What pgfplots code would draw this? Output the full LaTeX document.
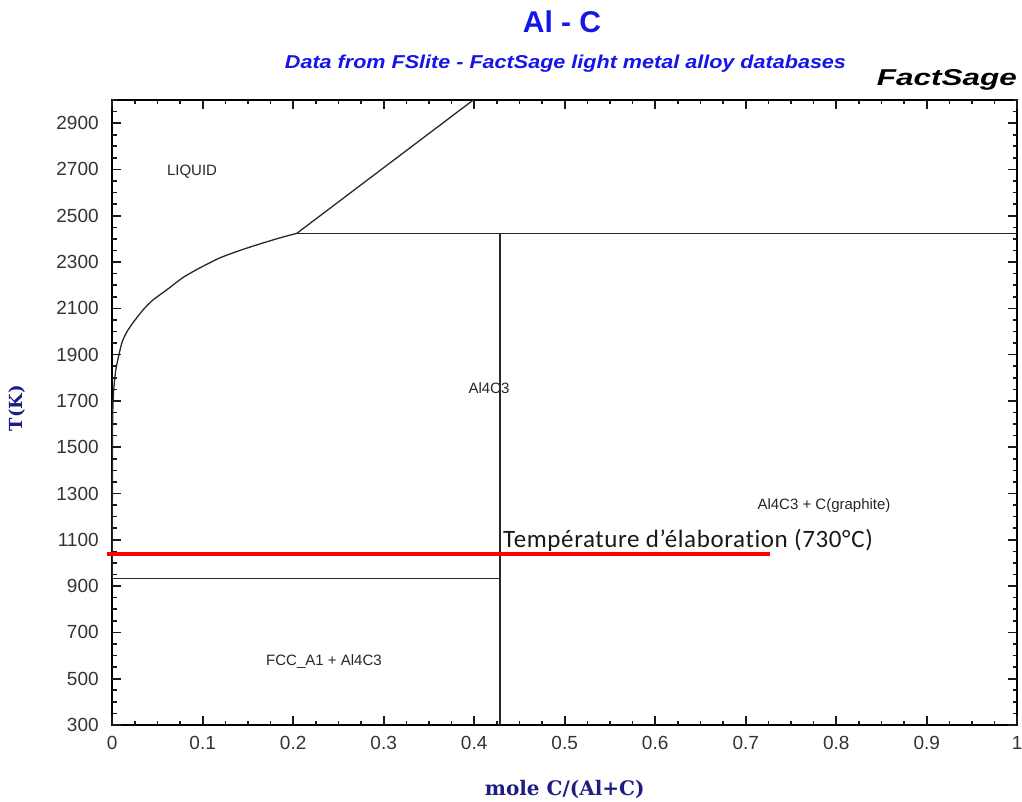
\documentclass[border=0pt]{standalone}
\usepackage{pgfplots}
\pgfplotsset{compat=1.18}
\usepackage{fontspec}
\setmainfont{Liberation Sans}
\newfontfamily\calibri[LetterSpace=2.5,Ligatures=NoCommon]{Carlito}
\newfontfamily\dvserif{DejaVu Serif}
\definecolor{titleblue}{RGB}{20,20,235}
\definecolor{labnavy}{RGB}{30,30,130}
\definecolor{phase}{RGB}{40,40,40}
\definecolor{tickc}{RGB}{25,25,25}
\begin{document}
\begin{tikzpicture}
\begin{axis}[
  at={(0pt,0pt)}, anchor=south west,
  scale only axis, width=905pt, height=625pt,
  xmin=0, xmax=1, ymin=300, ymax=3000,
  xtick={0,0.1,0.2,0.3,0.4,0.5,0.6,0.7,0.8,0.9,1},
  xticklabels={0,0.1,0.2,0.3,0.4,0.5,0.6,0.7,0.8,0.9,1},
  ytick={300,500,700,900,1100,1300,1500,1700,1900,2100,2300,2500,2700,2900},
  yticklabels={300,500,700,900,1100,1300,1500,1700,1900,2100,2300,2500,2700,2900},
  minor x tick num=3, minor y tick num=3,
  major tick length=9pt, minor tick length=4.5pt,
  tick style={draw=tickc, line width=1.6pt},
  axis line style={line width=1.8pt},
  tick label style={font=\fontsize{19}{19}\selectfont, text=black!80},
  xticklabel style={yshift=-8pt},
  yticklabel style={xshift=-10pt},
  xlabel={\dvserif\bfseries mole C/(Al+C)},
  xlabel style={at={(axis description cs:0.5,-0.1024)}, anchor=center, font=\fontsize{20}{20}\selectfont, text=labnavy},
  ylabel={\dvserif\bfseries T(K)},
  ylabel style={at={(axis description cs:-0.1046,0.507)}, anchor=center, font=\fontsize{18}{18}\selectfont, text=labnavy},
  clip=false,
]
% liquidus
\addplot[phase, line width=1.3pt, smooth, tension=0.4] coordinates {
 (0,934) (0.0003,1500) (0.0006,1647) (0.0015,1740) (0.004,1834) (0.007,1891)
 (0.0105,1949) (0.015,1990) (0.0215,2030) (0.034,2093) (0.045,2136)
 (0.060,2179) (0.0786,2234) (0.097,2275) (0.119,2318) (0.141,2350)
 (0.163,2378) (0.185,2404) (0.204,2424)
};
\addplot[phase, line width=1.3pt] coordinates {(0.204,2424) (0.399,3000)};
% peritectic
\addplot[phase, line width=1.3pt] coordinates {(0.204,2424) (1,2424)};
% Al4C3 line
\addplot[phase, line width=1.3pt] coordinates {(0.4286,300) (0.4286,2424)};
% eutectic / Al melting
\addplot[phase, line width=1.3pt] coordinates {(0,934) (0.4286,934)};
% elaboration temperature
\addplot[red, line width=4pt] coordinates {(-0.006,1037) (0.727,1037)};

\node[font=\fontsize{15}{15}\selectfont, text=black!85] at (axis cs:0.0882,2689) {LIQUID};
\node[font=\fontsize{15}{15}\selectfont, text=black!85] at (axis cs:0.4163,1756) {Al4C3};
\node[font=\fontsize{15}{15}\selectfont, text=black!85] at (axis cs:0.7865,1246) {Al4C3 + C(graphite)};
\node[font=\fontsize{15}{15}\selectfont, text=black!85] at (axis cs:0.234,576) {FCC\_A1 + Al4C3};
\node[font=\calibri\fontsize{25}{25}\selectfont, anchor=base west, inner sep=0pt, text=black!90] at (axis cs:0.4318,1065) {Température d’élaboration (730°C)};
\end{axis}
% frame tick marks: the axis frame is 905pt x 625pt with its lower left corner at the origin
\foreach \i in {0,...,40} {
  \pgfmathsetlengthmacro{\xx}{\i*22.625pt}
  \draw[draw=tickc, line width=1.6pt] (\xx,0pt) -- (\xx,4.5pt);
  \draw[draw=tickc, line width=1.6pt] (\xx,625pt) -- (\xx,620.5pt);
}
\foreach \i in {0,...,10} {
  \pgfmathsetlengthmacro{\xx}{\i*90.5pt}
  \draw[draw=tickc, line width=1.6pt] (\xx,0pt) -- (\xx,9pt);
  \draw[draw=tickc, line width=1.6pt] (\xx,625pt) -- (\xx,616pt);
}
\foreach \j in {0,...,54} {
  \pgfmathsetlengthmacro{\yy}{\j*11.5741pt}
  \draw[draw=tickc, line width=1.6pt] (0pt,\yy) -- (4.5pt,\yy);
  \draw[draw=tickc, line width=1.6pt] (905pt,\yy) -- (900.5pt,\yy);
}
\foreach \k in {0,...,13} {
  \pgfmathsetlengthmacro{\yy}{\k*46.2963pt}
  \draw[draw=tickc, line width=1.6pt] (0pt,\yy) -- (9pt,\yy);
  \draw[draw=tickc, line width=1.6pt] (905pt,\yy) -- (896pt,\yy);
}
\node[font=\fontsize{30}{30}\selectfont\bfseries, text=titleblue, anchor=base] at (449.8pt,692pt) {Al - C};
\node[text=titleblue, anchor=base, inner sep=0pt] at (453.3pt,656pt) {\resizebox{561pt}{13.5pt}{\bfseries\itshape Data from FSlite - FactSage light metal alloy databases}};
\node[anchor=base east, inner sep=0pt] at (904.8pt,639pt) {\resizebox{140pt}{16pt}{\bfseries\itshape FactSage}};
\pgfresetboundingbox
\path[use as bounding box] (-112.2pt,-76pt) rectangle (909.8pt,725pt);
\end{tikzpicture}
\end{document}
